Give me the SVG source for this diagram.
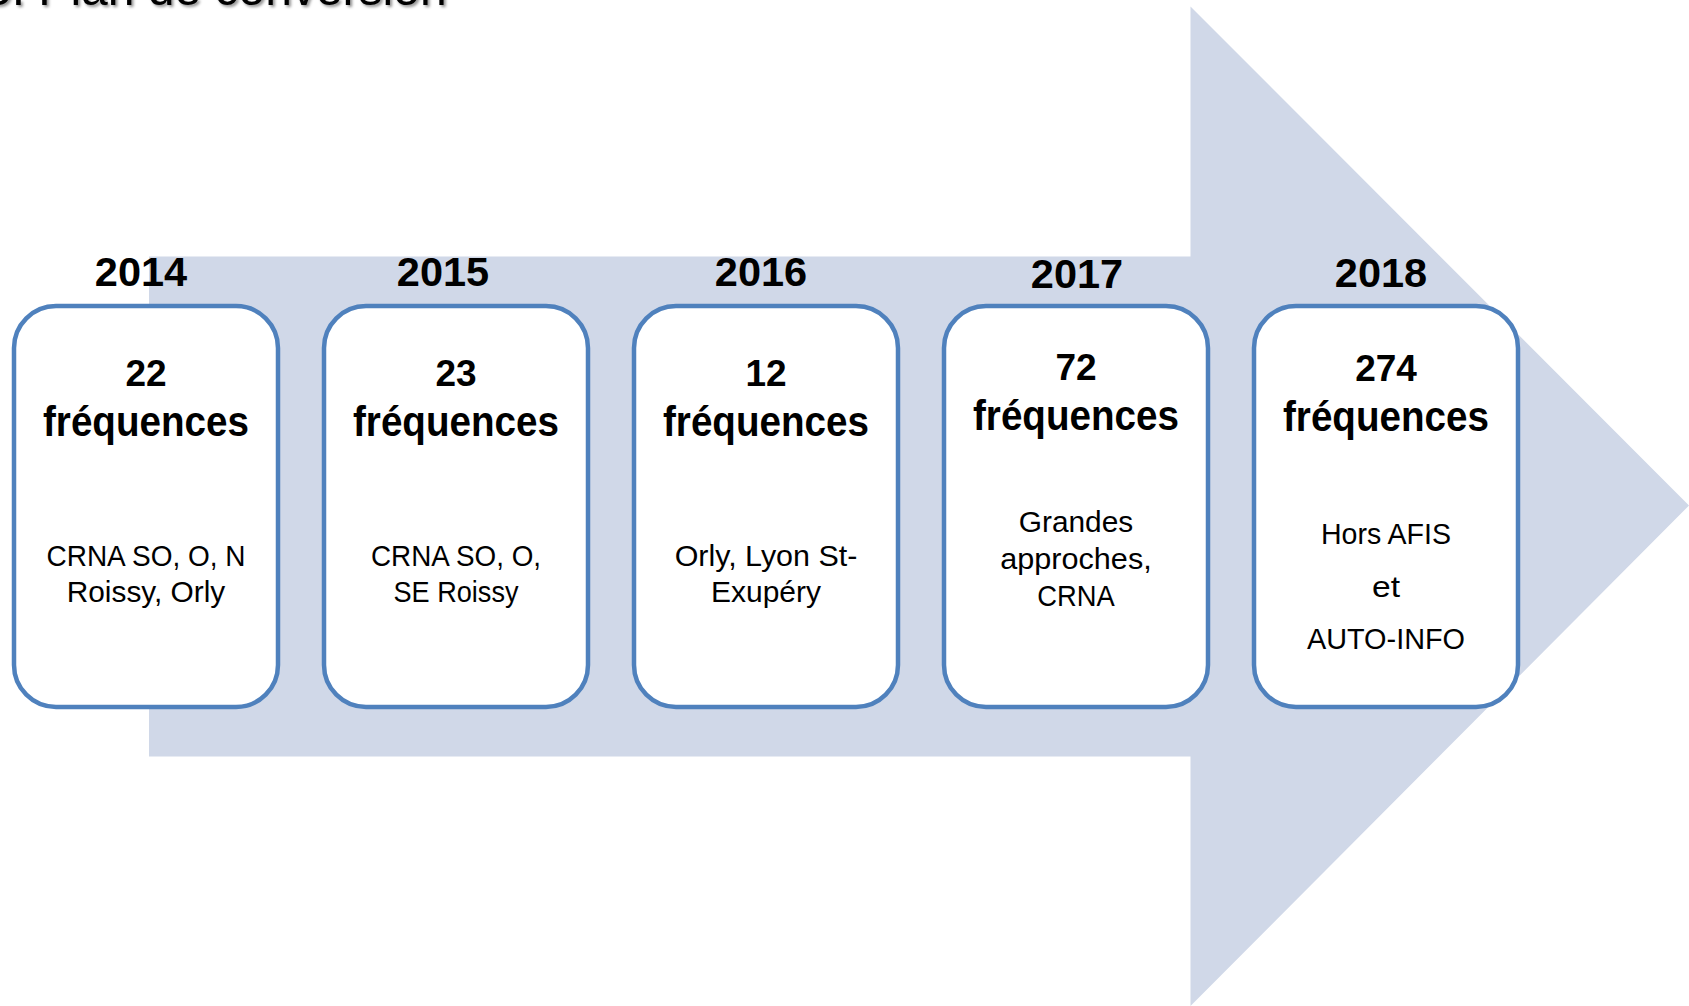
<svg xmlns="http://www.w3.org/2000/svg" width="1689" height="1006" viewBox="0 0 1689 1006">
<style>
.bg{fill:#ffffff}
.arrow{fill:#D0D8E8}
.box{fill:#ffffff;stroke:#4F81BD;stroke-width:4.5}
.year{font-family:"Liberation Sans",Arial,sans-serif;font-weight:bold;font-size:41.5px;fill:#000;text-anchor:middle}
.num{font-family:"Liberation Sans",Arial,sans-serif;font-weight:bold;font-size:37px;fill:#000;text-anchor:middle}
.freq{font-family:"Liberation Sans",Arial,sans-serif;font-weight:bold;font-size:42px;fill:#000;text-anchor:middle}
.body{font-family:"Liberation Sans",Arial,sans-serif;font-size:30px;fill:#000;text-anchor:middle}
.title{font-family:"Liberation Sans",Arial,sans-serif;font-size:48px;fill:#000}
</style>
<defs>
<filter id="shadow" x="-10%" y="-50%" width="120%" height="200%">
<feDropShadow dx="2" dy="2" stdDeviation="1.5" flood-color="#000" flood-opacity="0.45"/>
</filter>
</defs>
<rect class="bg" x="0" y="0" width="1689" height="1006"/>
<g id="title">
<text class="title" x="-15" y="5" filter="url(#shadow)">5. Plan de conversion</text>
</g>
<g id="timeline-arrow">
<polygon class="arrow" points="149,256.5 1190.5,256.5 1190.5,6.5 1689,505.5 1190.5,1006 1190.5,756.5 149,756.5"/>
</g>
<g id="connectors"></g>
<g id="node-2014">
<text class="year" x="141" y="285.5">2014</text>
<rect class="box" x="14" y="306" width="264" height="401" rx="42" ry="42"/>
<text class="num" x="146" y="386">22</text>
<text class="freq" x="146" y="436" textLength="206" lengthAdjust="spacingAndGlyphs">fréquences</text>
<text class="body" x="146" y="566" textLength="199" lengthAdjust="spacingAndGlyphs">CRNA SO, O, N</text>
<text class="body" x="146" y="602" textLength="158.5" lengthAdjust="spacingAndGlyphs">Roissy, Orly</text>
</g>
<g id="node-2015">
<text class="year" x="443" y="285.5">2015</text>
<rect class="box" x="324" y="306" width="264" height="401" rx="42" ry="42"/>
<text class="num" x="456" y="386">23</text>
<text class="freq" x="456" y="436" textLength="206" lengthAdjust="spacingAndGlyphs">fréquences</text>
<text class="body" x="456" y="566" textLength="170" lengthAdjust="spacingAndGlyphs">CRNA SO, O,</text>
<text class="body" x="456" y="602" textLength="125" lengthAdjust="spacingAndGlyphs">SE Roissy</text>
</g>
<g id="node-2016">
<text class="year" x="761" y="285.5">2016</text>
<rect class="box" x="634" y="306" width="264" height="401" rx="42" ry="42"/>
<text class="num" x="766" y="386">12</text>
<text class="freq" x="766" y="436" textLength="206" lengthAdjust="spacingAndGlyphs">fréquences</text>
<text class="body" x="766" y="566" textLength="182.7" lengthAdjust="spacingAndGlyphs">Orly, Lyon St-</text>
<text class="body" x="766" y="602" textLength="110" lengthAdjust="spacingAndGlyphs">Exupéry</text>
</g>
<g id="node-2017">
<text class="year" x="1077" y="288">2017</text>
<rect class="box" x="944" y="306" width="264" height="401" rx="42" ry="42"/>
<text class="num" x="1076" y="380">72</text>
<text class="freq" x="1076" y="430" textLength="206" lengthAdjust="spacingAndGlyphs">fréquences</text>
<text class="body" x="1076" y="532" textLength="114.5" lengthAdjust="spacingAndGlyphs">Grandes</text>
<text class="body" x="1076" y="569" textLength="151.4" lengthAdjust="spacingAndGlyphs">approches,</text>
<text class="body" x="1076" y="606" textLength="77.5" lengthAdjust="spacingAndGlyphs">CRNA</text>
</g>
<g id="node-2018">
<text class="year" x="1381" y="287">2018</text>
<rect class="box" x="1254" y="306" width="264" height="401" rx="42" ry="42"/>
<text class="num" x="1386" y="381">274</text>
<text class="freq" x="1386" y="431" textLength="206" lengthAdjust="spacingAndGlyphs">fréquences</text>
<text class="body" x="1386" y="544" textLength="130" lengthAdjust="spacingAndGlyphs">Hors AFIS</text>
<text class="body" x="1386" y="597" textLength="28" lengthAdjust="spacingAndGlyphs">et</text>
<text class="body" x="1386" y="649" textLength="158" lengthAdjust="spacingAndGlyphs">AUTO-INFO</text>
</g>
</svg>
